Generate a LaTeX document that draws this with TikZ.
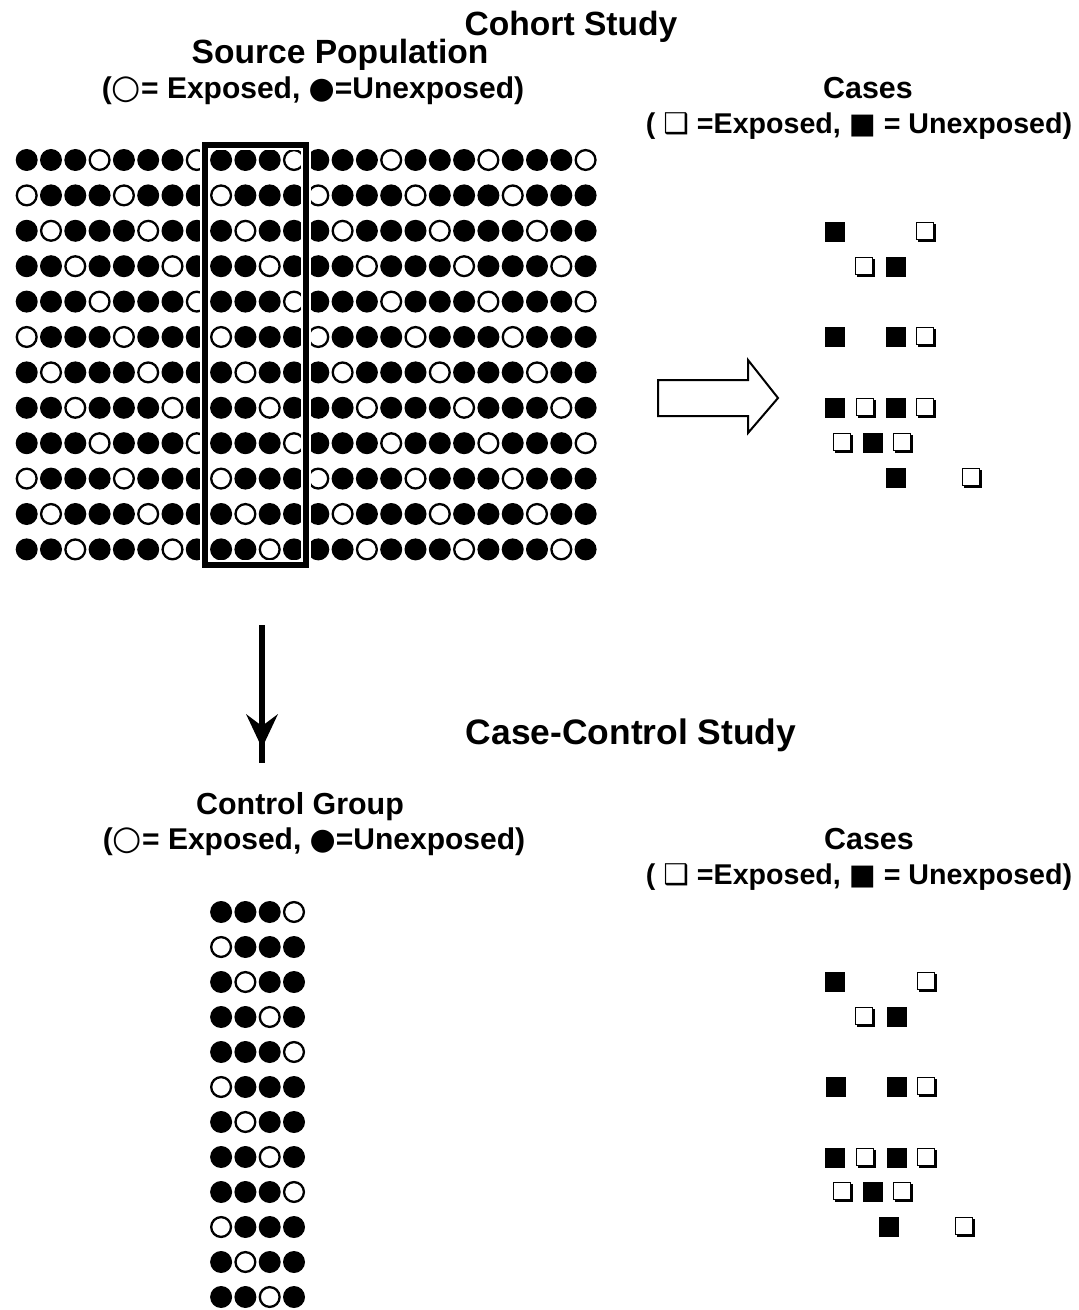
\documentclass[tikz,border=0pt]{standalone}
\usepackage{fontspec}
\setmainfont{Liberation Sans}
\newfontfamily\symfont{DejaVu Sans}
\usetikzlibrary{shadows}

\newcommand\whitedot{{\symfont\scalebox{1.12}{○}}}
\newcommand\blackdot{{\symfont ●}}
\newcommand\whitesq{{\symfont ❑}}
\newcommand\blacksq{{\symfont ■}}

\tikzset{
  fulldot/.style={circle, fill=black, minimum size=11pt, inner sep=0pt},
  opendot/.style={circle, draw=black, fill=white, line width=1.15pt, minimum size=9.9pt, inner sep=0pt},
  fullsq/.style={rectangle, fill=black, minimum size=10pt, inner sep=0pt},
  opensq/.style={rectangle, draw=black, fill=white, line width=0.6pt, minimum size=8.6pt, inner sep=0pt,
    drop shadow={shadow xshift=0.9pt, shadow yshift=-0.9pt, opacity=1, fill=black}},
  heading/.style={anchor=base, inner sep=0pt, font=\bfseries\fontsize{16.8}{20}\selectfont},
  subhead/.style={anchor=base, inner sep=0pt, font=\bfseries\fontsize{15.2}{18}\selectfont},
  legend/.style={anchor=base, inner sep=0pt, font=\bfseries\fontsize{15}{18}\selectfont},
  caselegend/.style={anchor=base, inner sep=0pt, font=\bfseries\fontsize{14.3}{17}\selectfont},
}

\begin{document}
\begin{tikzpicture}[x=0.5pt, y=-0.5pt]
\useasboundingbox[fill=white] (0,0) rectangle (1079,1310);

% ---- headings ----
\node[heading] (cohort) at (571,36) {Cohort Study};
\node[heading] (srcpop) at (340,64) {Source Population};
\node[legend] (srclegend) at (313,99) {(\whitedot= Exposed, \blackdot=Unexposed)};
\node[subhead] (cases1) at (868,99) {Cases};
\node[caselegend] (caselegend1) at (859,134) {( \whitesq\ =Exposed, \blacksq\ = Unexposed)};

% ---- source population: 12 rows x 24 columns ----
\foreach \r in {0,...,11}{
  \foreach \c in {0,...,23}{
    \pgfmathtruncatemacro\k{mod(\c+13-\r,4)}
    \ifnum\k=0
      \node[opendot] (p-\r-\c) at ({26.7+24.3*\c},{160+35.4*\r}) {};
    \else
      \node[fulldot] (p-\r-\c) at ({26.7+24.3*\c},{160+35.4*\r}) {};
    \fi
  }
}

% sampling frame around columns 8-11
\coordinate (frameNW) at (205,145);
\coordinate (frameSE) at (306,565);
\draw[white, line width=4.6pt] (frameNW) rectangle (frameSE);
\draw[black, line width=2.8pt] (frameNW) rectangle (frameSE);

% ---- hollow arrow to the cohort cases ----
\draw[line width=1pt, line join=miter]
  (658,380) -- (748,380) -- (748,360) -- (778,398) -- (748,433) -- (748,416) -- (658,416) -- cycle;

% ---- cohort cases ----
\foreach \x/\y/\t [count=\i] in {
  835/232/f, 926/232/o,
  865/267/o, 896/267/f,
  835/337/f, 896/337/f, 926/337/o,
  835/408/f, 866/408/o, 896/408/f, 926/408/o,
  843/443/o, 873/443/f, 903/443/o,
  896/478/f, 972/478/o}{
  \if\t f
    \node[fullsq] (ca-\i) at (\x,\y) {};
  \else
    \node[opensq] (ca-\i) at (\x-0.8,\y-0.8) {};
  \fi
}

% ---- downward arrow ----
\coordinate (downA) at (262,625);
\coordinate (downB) at (262,763);
\draw[line width=3.4pt] (downA) -- (downB);
\fill (246,714) -- (262,726) -- (278,714) -- (262,748) -- cycle;

% ---- case-control study ----
\node[heading, font=\bfseries\fontsize{17.7}{21}\selectfont] (ccstudy) at (631,744) {Case-Control Study};
\node[subhead] (ctrlgrp) at (300,814) {Control Group};
\node[legend] (ctrllegend) at (314,849) {(\whitedot= Exposed, \blackdot=Unexposed)};
\node[subhead] (cases2) at (869,849) {Cases};
\node[caselegend] (caselegend2) at (859,884) {( \whitesq\ =Exposed, \blacksq\ = Unexposed)};

% control group: columns 8-11 of the source population
\foreach \r in {0,...,11}{
  \foreach \c in {8,...,11}{
    \pgfmathtruncatemacro\k{mod(\c+13-\r,4)}
    \ifnum\k=0
      \node[opendot] (g-\r-\c) at ({26.7+24.3*\c},{912+35.0*\r}) {};
    \else
      \node[fulldot] (g-\r-\c) at ({26.7+24.3*\c},{912+35.0*\r}) {};
    \fi
  }
}

% ---- case-control cases ----
\foreach \x/\y/\t [count=\i] in {
  835/982/f, 927/982/o,
  865/1017/o, 897/1017/f,
  836/1087/f, 897/1087/f, 927/1087/o,
  835/1158/f, 866/1158/o, 897/1158/f, 927/1158/o,
  843/1192/o, 873/1192/f, 903/1192/o,
  889/1227/f, 965/1227/o}{
  \if\t f
    \node[fullsq] (cb-\i) at (\x,\y) {};
  \else
    \node[opensq] (cb-\i) at (\x-0.8,\y-0.8) {};
  \fi
}
\end{tikzpicture}
\end{document}
